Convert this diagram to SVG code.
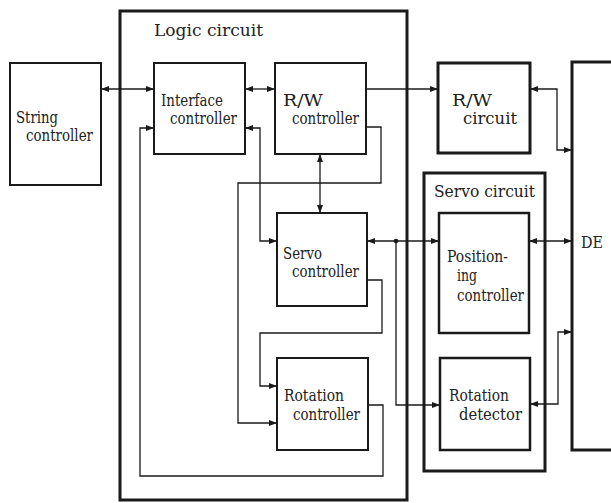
<svg xmlns="http://www.w3.org/2000/svg" width="611" height="503" viewBox="0 0 611 503">
<defs>
<marker id="ar" markerUnits="userSpaceOnUse" markerWidth="9" markerHeight="7" refX="8" refY="3" orient="auto-start-reverse">
<path d="M0,0 L8,3 L0,6 z" fill="#1a1a1a"/>
</marker>
</defs>
<style>
.box{fill:#fff;stroke:#1a1a1a;stroke-width:2}
.bold{fill:none;stroke:#1a1a1a;stroke-width:3}
.mid{fill:#fff;stroke:#1a1a1a;stroke-width:2.5}
.c{fill:none;stroke:#1a1a1a;stroke-width:1.3}
.t{font-family:'DejaVu Serif','Liberation Serif',serif;font-size:17px;fill:#222}
.s{font-size:16px}
</style>
<rect width="611" height="503" fill="#fff"/>
<g id="logic-circuit">
<rect class="bold" x="120" y="11" width="287" height="489"/>
<text class="t" x="154" y="36" textLength="109" lengthAdjust="spacingAndGlyphs">Logic circuit</text>
</g>
<g id="servo-circuit">
<rect class="bold" x="424" y="173" width="121" height="298"/>
<text class="t" x="434" y="197" textLength="101" lengthAdjust="spacingAndGlyphs">Servo circuit</text>
</g>
<g id="connectors">
<path class="c" d="M101,89 H154" marker-start="url(#ar)" marker-end="url(#ar)"/>
<path class="c" d="M245,89 H275" marker-start="url(#ar)" marker-end="url(#ar)"/>
<path class="c" d="M366,89 H438" marker-end="url(#ar)"/>
<path class="c" d="M530,89 H557 V150 H572" marker-start="url(#ar)" marker-end="url(#ar)"/>
<path class="c" d="M320,154 V213" marker-start="url(#ar)" marker-end="url(#ar)"/>
<path class="c" d="M366,127 H381 V183 H238 V423 H277" marker-end="url(#ar)"/>
<path class="c" d="M368,405 H383 V476 H140 V128 H154" marker-end="url(#ar)"/>
<path class="c" d="M245,128 H260 V241 H277" marker-start="url(#ar)" marker-end="url(#ar)"/>
<path class="c" d="M367,280 H382 V333 H260 V386 H277" marker-end="url(#ar)"/>
<path class="c" d="M367,241 H439" marker-start="url(#ar)" marker-end="url(#ar)"/>
<path class="c" d="M396,241 V405 H440" marker-end="url(#ar)"/>
<circle cx="396" cy="241" r="2.3" fill="#1a1a1a"/>
<path class="c" d="M529,241 H572" marker-start="url(#ar)" marker-end="url(#ar)"/>
<path class="c" d="M530,404 H558 V332 H572" marker-start="url(#ar)" marker-end="url(#ar)"/>
</g>
<g id="string-controller">
<rect class="box" x="10" y="63" width="91" height="122"/>
<text class="t" x="16" y="123" textLength="42" lengthAdjust="spacingAndGlyphs">String</text>
<text class="t" x="26" y="141" textLength="67" lengthAdjust="spacingAndGlyphs">controller</text>
</g>
<g id="interface-controller">
<rect class="box" x="154" y="63" width="91" height="91"/>
<text class="t" x="161" y="106" textLength="62" lengthAdjust="spacingAndGlyphs">Interface</text>
<text class="t" x="170" y="124" textLength="67" lengthAdjust="spacingAndGlyphs">controller</text>
</g>
<g id="rw-controller">
<rect class="box" x="275" y="63" width="91" height="91"/>
<text class="t" x="283" y="106" textLength="40" lengthAdjust="spacingAndGlyphs">R/W</text>
<text class="t" x="292" y="124" textLength="67" lengthAdjust="spacingAndGlyphs">controller</text>
</g>
<g id="rw-circuit">
<rect class="mid" x="438" y="63" width="92" height="90" style="stroke-width:3"/>
<text class="t" x="452" y="106" textLength="40" lengthAdjust="spacingAndGlyphs">R/W</text>
<text class="t" x="463" y="124" textLength="54" lengthAdjust="spacingAndGlyphs">circuit</text>
</g>
<g id="de">
<rect class="bold" x="572" y="62" width="60" height="388" style="fill:#fff"/>
<text class="t" x="581" y="248" textLength="22" lengthAdjust="spacingAndGlyphs">DE</text>
</g>
<g id="servo-controller">
<rect class="box" x="277" y="213" width="90" height="93"/>
<text class="t" x="283" y="259" textLength="39" lengthAdjust="spacingAndGlyphs">Servo</text>
<text class="t" x="292" y="277" textLength="67" lengthAdjust="spacingAndGlyphs">controller</text>
</g>
<g id="rotation-controller">
<rect class="box" x="277" y="358" width="91" height="92"/>
<text class="t" x="284" y="401" textLength="60" lengthAdjust="spacingAndGlyphs">Rotation</text>
<text class="t" x="293" y="420" textLength="67" lengthAdjust="spacingAndGlyphs">controller</text>
</g>
<g id="positioning-controller">
<rect class="mid" x="439" y="213" width="90" height="120"/>
<text class="t s" x="447" y="262" textLength="61" lengthAdjust="spacingAndGlyphs">Position-</text>
<text class="t s" x="457" y="281" textLength="20" lengthAdjust="spacingAndGlyphs">ing</text>
<text class="t" x="457" y="301" textLength="67" lengthAdjust="spacingAndGlyphs">controller</text>
</g>
<g id="rotation-detector">
<rect class="mid" x="440" y="358" width="90" height="92"/>
<text class="t" x="449" y="401" textLength="60" lengthAdjust="spacingAndGlyphs">Rotation</text>
<text class="t" x="459" y="420" textLength="63" lengthAdjust="spacingAndGlyphs">detector</text>
</g>
</svg>
